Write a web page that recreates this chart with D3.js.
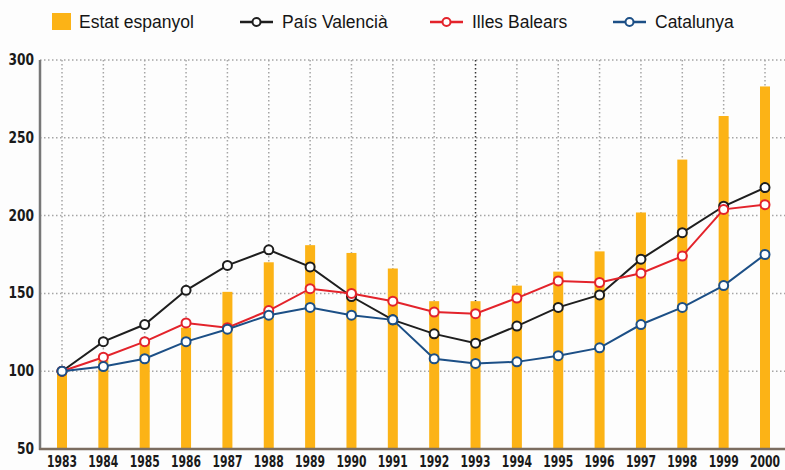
<!DOCTYPE html>
<html>
<head>
<meta charset="UTF-8">
<script src="https://cdn.jsdelivr.net/npm/d3@7"></script>
<style>
  body { margin: 0; background: #fdfdfd; }
  svg { display: block; }
  .tick-label { font-family: "Liberation Sans Narrow", "DejaVu Sans Condensed", sans-serif; font-weight: bold; font-size: 16px; fill: #1a1a1a; }
  .legend text { font-family: "Liberation Sans", Arial, sans-serif; font-size: 17.5px; fill: #151515; }
</style>
</head>
<body>
<svg id="chart" width="785" height="470"></svg>
<script>
const years = [1983, 1984, 1985, 1986, 1987, 1988, 1989, 1990, 1991, 1992, 1993, 1994, 1995, 1996, 1997, 1998, 1999, 2000];
const estatEspanyol = [100, 107, 120, 128, 151, 170, 181, 176, 166, 145, 145, 155, 164, 177, 202, 236, 264, 283];
const paisValencia = [100, 119, 130, 152, 168, 178, 167, 148, 133, 124, 118, 129, 141, 149, 172, 189, 206, 218];
const illesBalears = [100, 109, 119, 131, 128, 139, 153, 150, 145, 138, 137, 147, 158, 157, 163, 174, 204, 207];
const catalunya = [100, 103, 108, 119, 127, 136, 141, 136, 133, 108, 105, 106, 110, 115, 130, 141, 155, 175];
const yTicks = [50, 100, 150, 200, 250, 300];

const lineSeries = [
  { name: "País Valencià", values: paisValencia, color: "#1e1e1e" },
  { name: "Illes Balears", values: illesBalears, color: "#e3232b" },
  { name: "Catalunya", values: catalunya, color: "#1c4f86" }
];

const svg = d3.select("#chart");
const x = d3.scalePoint().domain(years).range([62, 765]);
const y = d3.scaleLinear().domain([50, 300]).range([449, 60]);

// grid
svg.append("g")
  .selectAll("line")
  .data(yTicks.filter(d => d > 50))
  .join("line")
  .attr("x1", 40).attr("x2", 785)
  .attr("y1", d => y(d)).attr("y2", d => y(d))
  .attr("stroke", "#a5a5a5")
  .attr("stroke-width", 1.5)
  .attr("stroke-dasharray", "1.5,2.5");

svg.append("g")
  .selectAll("line")
  .data(years)
  .join("line")
  .attr("x1", d => x(d)).attr("x2", d => x(d))
  .attr("y1", y(300)).attr("y2", y(50))
  .attr("stroke", d => d === 1993 ? "#333" : "#a5a5a5")
  .attr("stroke-width", 1.5)
  .attr("stroke-dasharray", "1.5,2.5");

// bars
svg.append("g")
  .selectAll("rect")
  .data(years)
  .join("rect")
  .attr("x", d => x(d) - 5)
  .attr("width", 10)
  .attr("y", (d, i) => y(estatEspanyol[i]))
  .attr("height", (d, i) => y(50) - y(estatEspanyol[i]))
  .attr("fill", "#fcb316");

// axes lines
svg.append("line")
  .attr("x1", 40).attr("x2", 40)
  .attr("y1", y(300)).attr("y2", y(50) + 1)
  .attr("stroke", "#777").attr("stroke-width", 2.5);
svg.append("line")
  .attr("x1", 39).attr("x2", 785)
  .attr("y1", y(50)).attr("y2", y(50))
  .attr("stroke", "#7b6d60").attr("stroke-width", 2.5);

// tick labels (condensed)
svg.append("g")
  .selectAll("text")
  .data(yTicks)
  .join("text")
  .attr("class", "tick-label")
  .attr("transform", d => `translate(34,${y(d) + 5}) scale(0.85,1)`)
  .attr("text-anchor", "end")
  .text(d => d);

svg.append("g")
  .selectAll("text")
  .data(years)
  .join("text")
  .attr("class", "tick-label")
  .attr("transform", d => `translate(${x(d)},467) scale(0.75,1)`)
  .attr("text-anchor", "middle")
  .text(d => d);

// lines
const line = d3.line()
  .x((d, i) => x(years[i]))
  .y(d => y(d));

lineSeries.forEach(s => {
  const g = svg.append("g");
  g.append("path")
    .datum(s.values)
    .attr("d", line)
    .attr("fill", "none")
    .attr("stroke", s.color)
    .attr("stroke-width", 2);
  g.selectAll("circle")
    .data(s.values)
    .join("circle")
    .attr("cx", (d, i) => x(years[i]))
    .attr("cy", d => y(d))
    .attr("r", 4.5)
    .attr("fill", "#fff")
    .attr("stroke", s.color)
    .attr("stroke-width", 2);
});

// legend
const legend = svg.append("g").attr("class", "legend");
legend.append("rect")
  .attr("x", 52).attr("y", 13).attr("width", 19).attr("height", 17)
  .attr("fill", "#fcb316");
legend.append("text").attr("x", 79).attr("y", 28).text("Estat espanyol");

const legendX = [240, 430, 613];
lineSeries.forEach((s, i) => {
  const lx = legendX[i];
  legend.append("line")
    .attr("x1", lx).attr("x2", lx + 33)
    .attr("y1", 22).attr("y2", 22)
    .attr("stroke", s.color).attr("stroke-width", 2.5);
  legend.append("circle")
    .attr("cx", lx + 16.5).attr("cy", 22).attr("r", 4)
    .attr("fill", "#fff").attr("stroke", s.color).attr("stroke-width", 2);
  legend.append("text").attr("x", lx + 42).attr("y", 28).text(s.name);
});
</script>
</body>
</html>
